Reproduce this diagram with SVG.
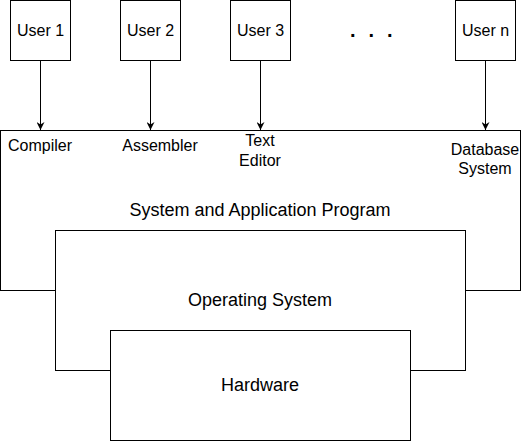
<svg xmlns="http://www.w3.org/2000/svg" width="522" height="441" viewBox="0 0 522 441">
<style>
.box{fill:#fff;stroke:#000;stroke-width:1}
.t{font-family:"Liberation Sans",Arial,sans-serif;font-size:16px;fill:#000;text-anchor:middle}
.b{font-size:18px}
.c{stroke:#000;stroke-width:1;fill:none}
</style>
<defs>
<marker id="arr" viewBox="0 0 10 10" refX="10" refY="5" markerWidth="8" markerHeight="8" markerUnits="userSpaceOnUse" orient="auto">
<path d="M0,0 L10,5 L0,10 L3,5 Z" fill="#000"/>
</marker>
</defs>
<rect width="522" height="441" fill="#fff"/>
<g id="apps">
<rect class="box" x="0.5" y="130.5" width="520" height="160"/>
<text class="t" x="40" y="151">Compiler</text>
<text class="t" x="160" y="151">Assembler</text>
<text class="t" x="260" y="145.5">Text</text>
<text class="t" x="260" y="165.5">Editor</text>
<text class="t" x="485" y="154.5">Database</text>
<text class="t" x="485" y="174">System</text>
<text class="t b" x="260" y="216">System and Application Program</text>
</g>
<g id="os">
<rect class="box" x="55.5" y="230.5" width="410" height="140"/>
<text class="t b" x="260" y="306">Operating System</text>
</g>
<g id="hw">
<rect class="box" x="110.5" y="330.5" width="300" height="110"/>
<text class="t b" x="260" y="391">Hardware</text>
</g>
<g id="user1"><rect class="box" x="10.5" y="0.5" width="60" height="60"/><text class="t" x="40.5" y="36">User 1</text></g>
<g id="user2"><rect class="box" x="120.5" y="0.5" width="60" height="60"/><text class="t" x="150.5" y="36">User 2</text></g>
<g id="user3"><rect class="box" x="230.5" y="0.5" width="60" height="60"/><text class="t" x="260.5" y="36">User 3</text></g>
<g id="usern"><rect class="box" x="455.5" y="0.5" width="60" height="60"/><text class="t" x="485.5" y="36">User n</text></g>
<g id="ellipsis"><text x="350" y="37" style="font-family:'Liberation Sans',Arial,sans-serif;font-size:20px;font-weight:bold;letter-spacing:3.7px">. . .</text></g>
<g id="connectors">
<line class="c" x1="40.5" y1="60.5" x2="40.5" y2="130" marker-end="url(#arr)"/>
<line class="c" x1="150.5" y1="60.5" x2="150.5" y2="130" marker-end="url(#arr)"/>
<line class="c" x1="260.5" y1="60.5" x2="260.5" y2="130" marker-end="url(#arr)"/>
<line class="c" x1="485.5" y1="60.5" x2="485.5" y2="130" marker-end="url(#arr)"/>
</g>
</svg>
